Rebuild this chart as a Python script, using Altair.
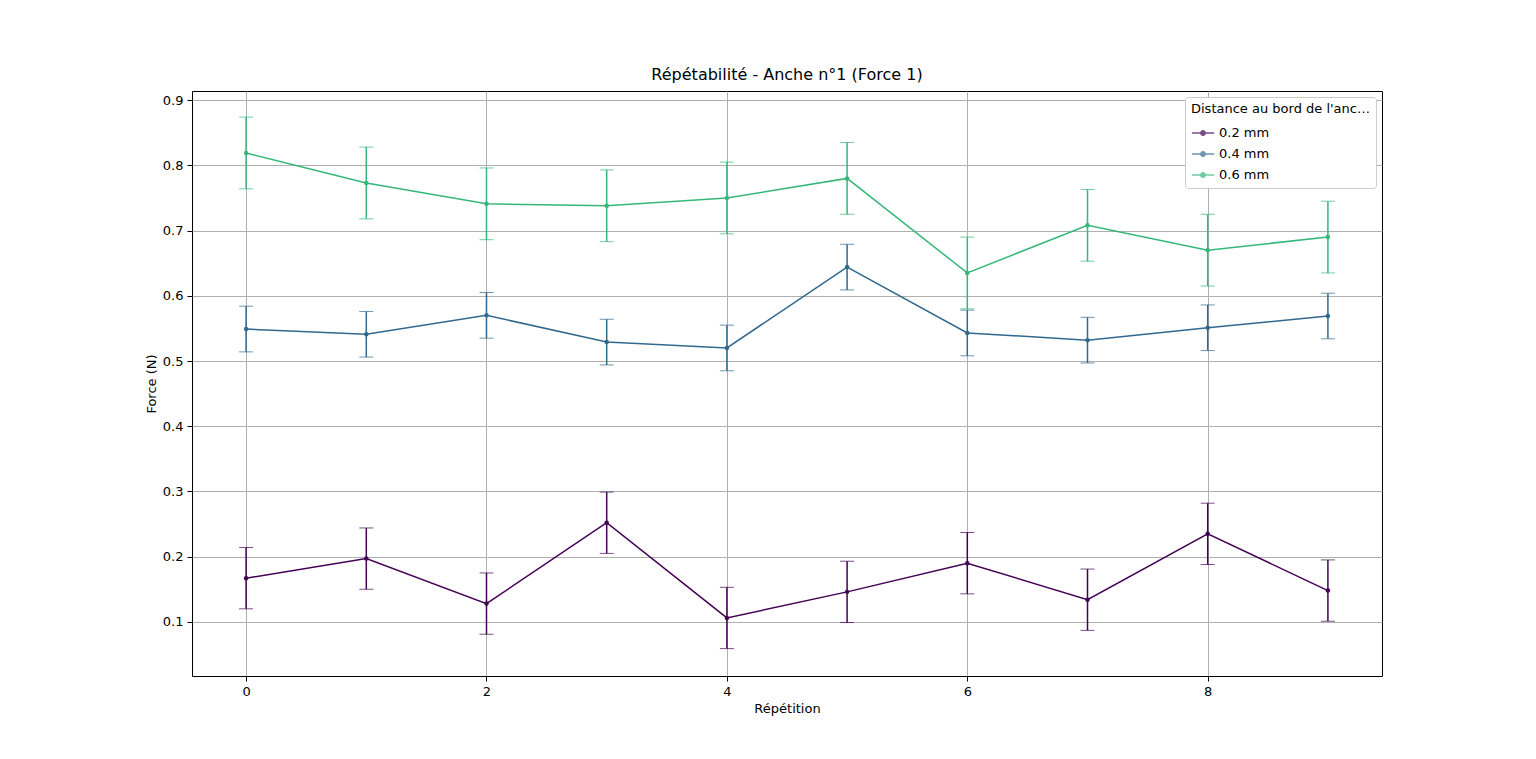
import altair as alt
import pandas as pd

reps = list(range(10))
series = ["0.2 mm", "0.4 mm", "0.6 mm"]
force_02 = [0.167, 0.197, 0.128, 0.252, 0.106, 0.146, 0.190, 0.134, 0.235, 0.148]
force_04 = [0.549, 0.541, 0.570, 0.529, 0.520, 0.644, 0.543, 0.532, 0.551, 0.569]
force_06 = [0.819, 0.773, 0.741, 0.738, 0.750, 0.780, 0.635, 0.708, 0.670, 0.690]
err = {"0.2 mm": 0.047, "0.4 mm": 0.035, "0.6 mm": 0.055}
colors = ["#440154", "#31688e", "#35b779"]

rows = []
for name, vals in zip(series, [force_02, force_04, force_06]):
    for r, v in zip(reps, vals):
        rows.append({"rep": r, "force": v, "serie": name,
                     "lo": v - err[name], "hi": v + err[name]})
df = pd.DataFrame(rows)

x = alt.X("rep:Q", title="Répétition", scale=alt.Scale(domain=[-0.45, 9.45], nice=False),
          axis=alt.Axis(values=[0, 2, 4, 6, 8], format="d"))
y_scale = alt.Scale(domain=[0.017, 0.914], nice=False)
color = alt.Color("serie:N", scale=alt.Scale(domain=series, range=colors),
                  legend=alt.Legend(title="Distance au bord de l'anche", orient="top-right",
                                    fillColor="white", strokeColor="#cccccc", padding=6,
                                    cornerRadius=3, titleFontWeight="normal", titleFontSize=13,
                                    labelFontSize=13, offset=6,
                                    symbolType="M-1,0L1,0M-0.2,0a0.2,0.2 0 1,0 0.4,0a0.2,0.2 0 1,0 -0.4,0",
                                    symbolSize=500, symbolStrokeWidth=1.5))

base = alt.Chart(df)
lines = base.mark_line(strokeWidth=1.5, point=alt.OverlayMarkDef(size=20, filled=True)).encode(
    x=x, y=alt.Y("force:Q", title="Force (N)", scale=y_scale,
                 axis=alt.Axis(values=[0.1, 0.2, 0.3, 0.4, 0.5, 0.6, 0.7, 0.8, 0.9], format=".1f")),
    color=color)
bars = base.mark_rule(strokeWidth=1.5).encode(x=x, y=alt.Y("lo:Q", scale=y_scale), y2="hi:Q",
                                              color=color)
caps_lo = base.mark_tick(orient="horizontal", size=14, thickness=1).encode(
    x=x, y=alt.Y("lo:Q", scale=y_scale), color=color)
caps_hi = base.mark_tick(orient="horizontal", size=14, thickness=1).encode(
    x=x, y=alt.Y("hi:Q", scale=y_scale), color=color)

chart = alt.layer(bars, caps_lo, caps_hi, lines).properties(
    width=1190, height=585,
    title=alt.Title("Répétabilité - Anche n°1 (Force 1)", fontSize=16, fontWeight="normal", offset=8),
    autosize=alt.AutoSizeParams(type="none"),
    padding={"left": 184, "top": 83, "right": 50, "bottom": 80},
).configure(font="DejaVu Sans").configure_view(stroke="black", strokeWidth=1).configure_axis(
    grid=True, gridColor="#b0b0b0", gridWidth=1, domain=False, tickColor="black",
    labelFontSize=13, titleFontSize=13, titleFontWeight="normal", labelColor="black",
    titleColor="black", tickSize=5, labelPadding=4,
)

chart.save("out.html", embed_options={"renderer": "svg", "actions": False})
